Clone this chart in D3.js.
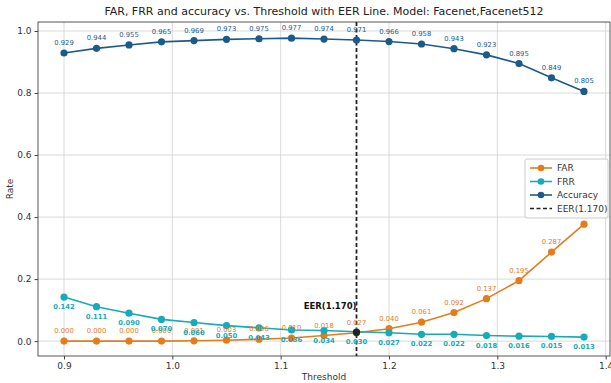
<!DOCTYPE html>
<html><head><meta charset="utf-8">
<script src="https://cdn.jsdelivr.net/npm/d3@7"></script>
<style>body{margin:0;background:#fff}svg{display:block;font-family:"DejaVu Sans",sans-serif}</style>
</head><body><svg id="c" width="611" height="383"></svg>
<script>
const thresholds = [0.90,0.93,0.96,0.99,1.02,1.05,1.08,1.11,1.14,1.17,1.20,1.23,1.26,1.29,1.32,1.35,1.38];
const far = [0.000,0.000,0.000,0.000,0.001,0.003,0.006,0.010,0.018,0.027,0.040,0.061,0.092,0.137,0.195,0.287,0.377];
const frr = [0.142,0.111,0.090,0.070,0.060,0.050,0.043,0.036,0.034,0.030,0.027,0.022,0.022,0.018,0.016,0.015,0.013];
const accuracy = [0.929,0.944,0.955,0.965,0.969,0.973,0.975,0.977,0.974,0.971,0.966,0.958,0.943,0.923,0.895,0.849,0.805];
const eer = 1.170;
const xTicks = [0.9,1.0,1.1,1.2,1.3,1.4];
const yTicks = [0.0,0.2,0.4,0.6,0.8,1.0];
const seriesNames = ["FAR","FRR","Accuracy"];
const colors = {FAR:"#e57c1c", FRR:"#17aab8", Accuracy:"#1c5b87"};

const svg = d3.select("#c");
const L=38,R=610,T=22,B=356;
const x = d3.scaleLinear().domain([0.876,1.404]).range([L,R]);
const y = d3.scaleLinear().domain([-0.048,1.029]).range([B,T]);

// grid
svg.append("g").selectAll("line.gx").data(xTicks).join("line")
  .attr("x1",d=>x(d)).attr("x2",d=>x(d)).attr("y1",T).attr("y2",B)
  .attr("stroke","#d0d0d0").attr("stroke-width",0.8);
svg.append("g").selectAll("line.gy").data(yTicks).join("line")
  .attr("y1",d=>y(d)).attr("y2",d=>y(d)).attr("x1",L).attr("x2",R)
  .attr("stroke","#d0d0d0").attr("stroke-width",0.8);

// axes
const xa = svg.append("g").attr("transform",`translate(0,${B})`)
  .call(d3.axisBottom(x).tickValues(xTicks).tickFormat(d3.format(".1f")).tickSize(3.5).tickPadding(3));
const ya = svg.append("g").attr("transform",`translate(${L},0)`)
  .call(d3.axisLeft(y).tickValues(yTicks).tickFormat(d3.format(".1f")).tickSize(3.5).tickPadding(3));
[xa,ya].forEach(a=>{a.select(".domain").remove();a.selectAll("text").attr("font-size",9).attr("fill","#333").attr("font-family","DejaVu Sans");a.selectAll("line").attr("stroke","#444");});
svg.append("rect").attr("x",L).attr("y",T).attr("width",R-L).attr("height",B-T)
  .attr("fill","none").attr("stroke","#444").attr("stroke-width",0.9);

// EER line
svg.append("line").attr("x1",x(eer)).attr("x2",x(eer)).attr("y1",T).attr("y2",B)
  .attr("stroke","#222").attr("stroke-width",1.8).attr("stroke-dasharray","4,2.5");

const data = {FAR:far, FRR:frr, Accuracy:accuracy};
const line = d3.line().x((d,i)=>x(thresholds[i])).y(d=>y(d));
const offsets = {FAR:-8, FRR:12, Accuracy:-8};
seriesNames.forEach(n=>{
  const g = svg.append("g");
  g.append("path").datum(data[n]).attr("d",line).attr("fill","none")
    .attr("stroke",colors[n]).attr("stroke-width",1.6);
  g.selectAll("circle").data(data[n]).join("circle")
    .attr("cx",(d,i)=>x(thresholds[i])).attr("cy",d=>y(d)).attr("r",3.6).attr("fill",colors[n]);
});
seriesNames.forEach(n=>{
  svg.append("g").selectAll("text").data(data[n]).join("text")
    .attr("x",(d,i)=>x(thresholds[i])).attr("y",d=>y(d)+offsets[n])
    .attr("text-anchor","middle").attr("font-size",6.8).attr("fill",colors[n])
    .attr("font-weight", n==="FRR"?"bold":"normal")
    .text(d=>d3.format(".3f")(d));
});

// EER point & text
const ei = thresholds.indexOf(eer);
const ey = (far[ei]+frr[ei])/2;
svg.append("circle").attr("cx",x(eer)).attr("cy",y(ey)).attr("r",3.6).attr("fill","#222");
svg.append("text").attr("x",x(eer)).attr("y",y(ey)-23).attr("text-anchor","end")
  .attr("font-size",8.5).attr("font-weight","bold").attr("fill","#111").text(`EER(${eer.toFixed(3)})`);

// legend
const lg = svg.append("g").attr("transform","translate(525,159)");
lg.append("rect").attr("width",83).attr("height",59).attr("rx",2).attr("fill","#fff").attr("fill-opacity",0.85).attr("stroke","#ccc");
const items = seriesNames.concat([`EER(${eer.toFixed(3)})`]);
items.forEach((n,i)=>{
  const yy = 9+i*13.5;
  const c = colors[n]||"#222";
  lg.append("line").attr("x1",5).attr("x2",27).attr("y1",yy).attr("y2",yy).attr("stroke",c)
    .attr("stroke-width",1.6).attr("stroke-dasharray", colors[n]?null:"4,2.5");
  if(colors[n]) lg.append("circle").attr("cx",16).attr("cy",yy).attr("r",3.3).attr("fill",c);
  lg.append("text").attr("x",32).attr("y",yy+3.2).attr("font-size",9).attr("fill","#333").text(n);
});

// title & labels
svg.append("text").attr("x",(L+R)/2).attr("y",15).attr("text-anchor","middle")
  .attr("font-size",11).attr("fill","#222").text("FAR, FRR and accuracy vs. Threshold with EER Line. Model: Facenet,Facenet512");
svg.append("text").attr("x",(L+R)/2).attr("y",380).attr("text-anchor","middle")
  .attr("font-size",9).attr("fill","#333").text("Threshold");
svg.append("text").attr("transform",`translate(13,${(T+B)/2}) rotate(-90)`).attr("text-anchor","middle")
  .attr("font-size",9).attr("fill","#333").text("Rate");
</script></body></html>
